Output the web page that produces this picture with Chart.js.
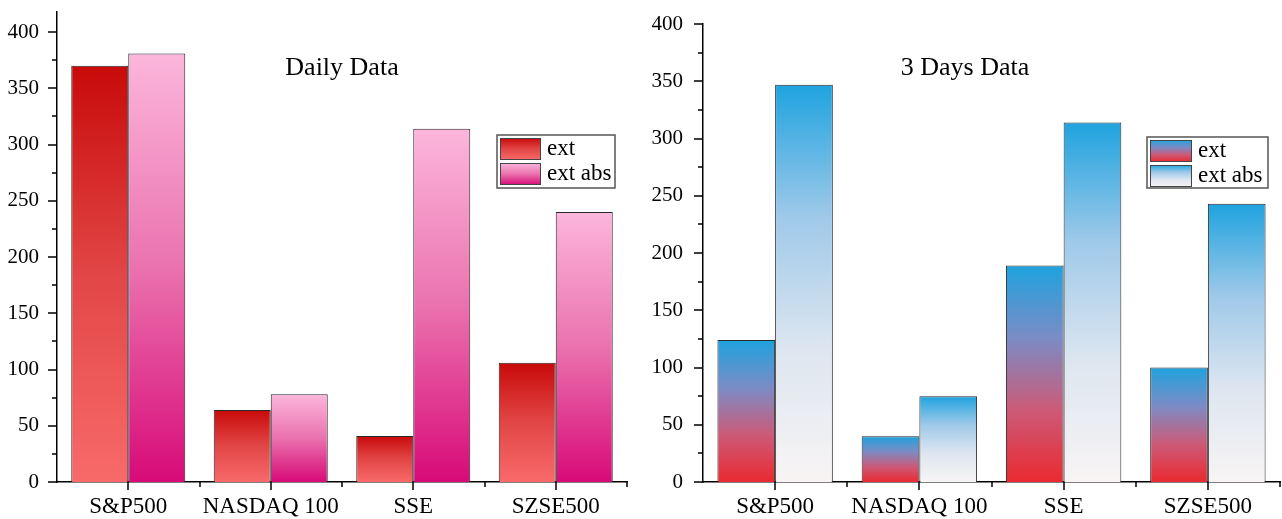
<!DOCTYPE html>
<html>
<head>
<meta charset="utf-8">
<script src="https://cdn.jsdelivr.net/npm/chart.js@4"></script>
<style>
	body { margin: 0; background: #fff; }
	canvas { position: absolute; top: 0; }
	#daily-chart { left: 0; }
	#days-chart { left: 640px; }
</style>
</head>
<body>
<canvas id="daily-chart" width="640" height="519"></canvas>
<canvas id="days-chart" width="642" height="519"></canvas>
<script>
const categories = ['S&P500', 'NASDAQ 100', 'SSE', 'SZSE500'];
const seriesNames = ['ext', 'ext abs'];
const dailyExt = [370, 64, 41, 106];
const dailyExtAbs = [381, 78, 314, 240];
const threeDayExt = [124, 40, 189, 100];
const threeDayExtAbs = [347, 75, 314, 243];

const serif = '"Liberation Serif", "Times New Roman", serif';

// gradient running from the top of each bar down to its base
function fillStops(g, stops) {
	stops.forEach((s, i) => g.addColorStop(i / (stops.length - 1), s));
	return g;
}
function barGradient(stops) {
	return function (ctx) {
		const chart = ctx.chart;
		if (!chart.chartArea || ctx.type !== 'data') return stops[stops.length - 1];
		const y = chart.scales.y;
		const top = y.getPixelForValue(ctx.parsed.y);
		const base = y.getPixelForValue(0);
		if (base - top < 1) return stops[stops.length - 1];
		return fillStops(chart.ctx.createLinearGradient(0, top, 0, base), stops);
	};
}

const decor = {
	id: 'decor',
	afterDraw(chart, args, opts) {
		const c = chart.ctx, x = chart.scales.x, y = chart.scales.y, a = chart.chartArea;
		c.save();
		// axis ticks
		c.strokeStyle = '#000';
		c.lineWidth = 1.5;
		c.beginPath();
		for (let v = 0; v <= y.max + 0.01; v += 25) {
			const py = Math.round(y.getPixelForValue(v));
			const len = v % 50 ? 5 : 9;
			c.moveTo(a.left - len, py);
			c.lineTo(a.left, py);
		}
		for (let i = 0; i < categories.length; i++) {
			const px = Math.round(x.getPixelForValue(i));
			c.moveTo(px, a.bottom);
			c.lineTo(px, a.bottom + 8);
		}
		for (let i = 1; i <= categories.length; i++) {
			const px = Math.round(x.getPixelForValue(i - 0.5));
			c.moveTo(px, a.bottom);
			c.lineTo(px, a.bottom + 5);
		}
		c.stroke();

		// title inside the plot
		c.fillStyle = '#000';
		c.font = '26px ' + serif;
		c.textAlign = 'center';
		c.textBaseline = 'middle';
		c.fillText(opts.title, opts.titleX, opts.titleY);

		// legend box
		const L = opts.legend;
		c.strokeStyle = '#555';
		c.lineWidth = 1.5;
		c.strokeRect(L.x, L.y, L.w, L.h);
		c.font = '23px ' + serif;
		c.textAlign = 'left';
		chart.data.datasets.forEach((ds, i) => {
			const sy = L.y + 3 + i * 25;
			const g = fillStops(c.createLinearGradient(0, sy, 0, sy + 22), opts.stops[i]);
			c.fillStyle = g;
			c.fillRect(L.x + 3, sy, L.sw, 22);
			c.strokeStyle = '#444';
			c.lineWidth = 1;
			c.strokeRect(L.x + 3.5, sy + 0.5, L.sw - 1, 21);
			c.fillStyle = '#000';
			c.fillText(ds.label, L.x + L.sw + 9, sy + 11);
		});
		c.restore();
	}
};

function makeChart(el, ext, extAbs, stops, cfg) {
	return new Chart(el, {
		type: 'bar',
		data: {
			labels: categories,
			datasets: [
				{ label: seriesNames[0], data: ext, backgroundColor: barGradient(stops[0]) },
				{ label: seriesNames[1], data: extAbs, backgroundColor: barGradient(stops[1]) }
			]
		},
		options: {
			responsive: false,
			animation: false,
			layout: { padding: { top: cfg.top, right: cfg.right, left: 0, bottom: 0 } },
			datasets: {
				bar: {
					borderColor: '#2a2a2a',
					borderWidth: 1,
					categoryPercentage: 0.8,
					barPercentage: 1.0
				}
			},
			plugins: {
				legend: { display: false },
				tooltip: { enabled: false },
				decor: cfg.decor
			},
			scales: {
				x: {
					grid: { display: false, drawTicks: false },
					border: { display: true, color: '#000', width: 1.5 },
					ticks: { color: '#000', font: { family: serif, size: 23 }, padding: 11, maxRotation: 0 },
					afterFit: s => {
						s.height = 37;
						s.paddingLeft = 0;
						s.paddingRight = 0;
					}
				},
				y: {
					min: 0,
					max: cfg.max,
					grid: { display: false, drawTicks: false },
					border: { display: true, color: '#000', width: 1.5 },
					ticks: { stepSize: 50, includeBounds: false, color: '#000', font: { family: serif, size: 21 }, padding: cfg.tickPad },
					afterFit: s => {
						s.width = cfg.axisLeft;
						s.paddingTop = 0;
						s.paddingBottom = 0;
					}
				}
			}
		},
		plugins: [decor]
	});
}

const dailyStops = [
	['#c80a0a', '#e24646', '#f86a6a'],
	['#fcb6dc', '#ea72ae', '#d80a78']
];
const daysStops = [
	['#1ea2de', '#7a8cc6', '#cc5a78', '#ea2a30'],
	['#1fa3df', '#9fc9e9', '#dde6f0', '#f8f4f4']
];

makeChart(document.querySelector('#daily-chart'), dailyExt, dailyExtAbs, dailyStops, {
	top: 12, right: 13, max: 417.8, axisLeft: 57, tickPad: 18,
	decor: { title: 'Daily Data', titleX: 342, titleY: 68, stops: dailyStops,
		legend: { x: 497, y: 135, w: 118, h: 53, sw: 41 } }
});
makeChart(document.querySelector('#days-chart'), threeDayExt, threeDayExtAbs, daysStops, {
	top: 24, right: 2, max: 400, axisLeft: 63, tickPad: 20,
	decor: { title: '3 Days Data', titleX: 325, titleY: 68, stops: daysStops,
		legend: { x: 507, y: 137, w: 121, h: 51, sw: 42 } }
});
</script>
</body>
</html>
